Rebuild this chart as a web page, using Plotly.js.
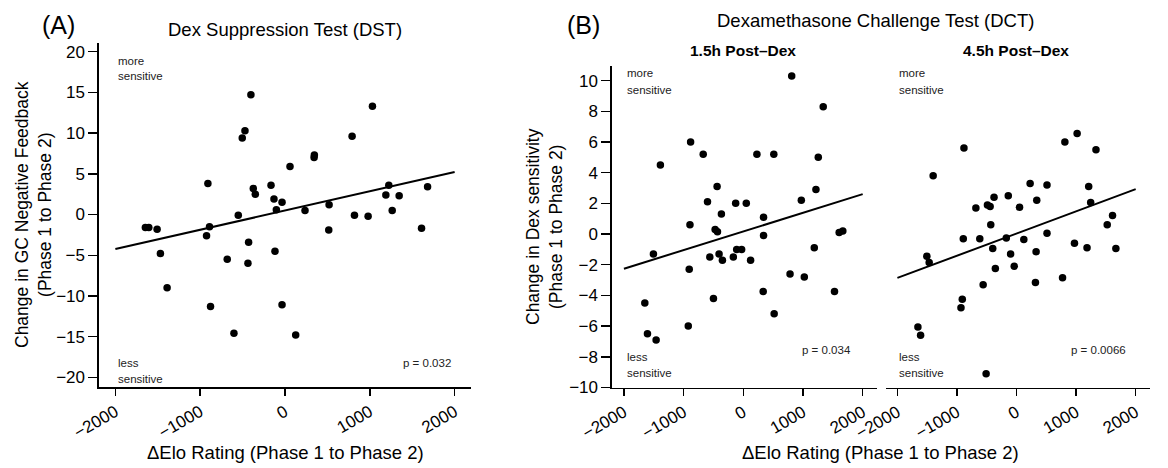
<!DOCTYPE html>
<html>
<head>
<meta charset="utf-8">
<script src="https://cdn.plot.ly/plotly-3.0.1.min.js"></script>
<style>html,body{margin:0;padding:0;background:#fff;}#chart{width:1168px;height:468px;}</style>
</head>
<body>
<div id="chart"></div>
<script>
// Panel A: Dex Suppression Test (DST)
const eloA = [-1646,-1606,-1508,-1469,-1390,-909,-890,-925,-878,-681,-602,-551,-504,-472,-402,-374,-350,-429,-437,-165,-130,-102,-35,-118,-35,59,126,236,343,346,520,516,791,819,980,1031,1189,1224,1264,1346,1610,1681];
const gcA  = [-1.6,-1.6,-1.8,-4.8,-9.0,3.8,-1.5,-2.6,-11.3,-5.5,-14.6,-0.1,9.4,10.3,14.7,3.2,2.5,-3.4,-6.0,3.6,1.9,0.6,1.5,-4.5,-11.1,5.9,-14.8,0.5,7.0,7.3,1.2,-1.9,9.6,-0.1,-0.2,13.3,2.4,3.6,0.5,2.3,-1.7,3.4];
// Panel B: 1.5h Post-Dex
const eloB15 = [811,1339,-883,-672,228,511,1256,-1389,-439,1217,-600,-128,50,972,-367,339,-894,-472,-433,339,1606,1667,-1506,-561,-406,-350,-111,-28,-167,122,1189,-906,783,1022,-500,333,1528,517,-1650,-922,-1606,-1461];
const dexB15 = [10.3,8.3,6.0,5.2,5.2,5.2,5.0,4.5,3.1,2.9,2.1,2.0,2.0,2.2,1.3,1.1,0.6,0.3,0.15,-0.1,0.1,0.2,-1.3,-1.5,-1.3,-1.7,-1.0,-1.0,-1.5,-1.7,-0.9,-2.3,-2.6,-2.8,-4.2,-3.75,-3.75,-5.2,-4.5,-6.0,-6.5,-6.9];
// Panel B: 4.5h Post-Dex
const eloB45 = [1017,811,1333,-883,-1400,228,511,1211,-139,-378,339,-489,-444,-683,50,1244,1611,1522,-433,-894,-617,-172,122,511,-400,-100,328,972,1183,1667,-1506,-1467,-356,-39,-561,317,772,-911,-933,-1656,-1611,-511];
const dexB45 = [6.55,6.0,5.5,5.6,3.8,3.3,3.2,3.1,2.5,2.4,2.2,1.9,1.8,1.7,1.75,2.05,1.2,0.6,0.6,-0.3,-0.3,-0.25,-0.35,0.05,-0.95,-1.3,-1.15,-0.6,-0.9,-0.95,-1.45,-1.85,-2.25,-2.1,-3.3,-3.15,-2.85,-4.25,-4.8,-6.05,-6.6,-9.1];
// Fitted regression lines (endpoints)
const fitX = [-2000, 2000];
const fitA = [-4.24, 5.22];
const fitB15 = [-2.26, 2.60];
const fitB45 = [-2.86, 2.93];
// Tick labels
const xTicks = [-2000,-1000,0,1000,2000];
const yTicksA = [-20,-15,-10,-5,0,5,10,15,20];
const yTicksB = [-10,-8,-6,-4,-2,0,2,4,6,8,10];
const pValues = ['p = 0.032','p = 0.034','p = 0.0066'];

const W = 1168, H = 468;
const px = v => v / W;
const py = v => (H - v) / H;
const FONT = 'Liberation Sans, Arial, Helvetica, sans-serif';
const mk = {color:'#000', size:7.5};
const ln = {color:'#000', width:2};

const traces = [
  {x: eloA, y: gcA, type:'scatter', mode:'markers', marker: mk, xaxis:'x', yaxis:'y'},
  {x: fitX, y: fitA, type:'scatter', mode:'lines', line: ln, xaxis:'x', yaxis:'y'},
  {x: eloB15, y: dexB15, type:'scatter', mode:'markers', marker: mk, xaxis:'x2', yaxis:'y2'},
  {x: fitX, y: fitB15, type:'scatter', mode:'lines', line: ln, xaxis:'x2', yaxis:'y2'},
  {x: eloB45, y: dexB45, type:'scatter', mode:'markers', marker: mk, xaxis:'x3', yaxis:'y3'},
  {x: fitX, y: fitB45, type:'scatter', mode:'lines', line: ln, xaxis:'x3', yaxis:'y3'}
];

const tickFont = {family: FONT, size: 17, color:'#000'};
const fmt = v => v < 0 ? '\u2212' + Math.abs(v) : String(v);
function xax(dom, range, anchor) {
  return {domain: dom, range: range, anchor: anchor, showgrid:false, zeroline:false,
    showline:true, linecolor:'#000', linewidth:1.6, ticks:'outside', ticklen:7, tickwidth:1.4,
    tickcolor:'#000', tickvals: xTicks, ticktext: xTicks.map(fmt),
    tickangle:-30, tickfont: tickFont, fixedrange:true};
}
function yax(dom, range, anchor, ticks, show) {
  return {domain: dom, range: range, anchor: anchor, showgrid:false, zeroline:false,
    showline: show, linecolor:'#000', linewidth:1.6, ticks: show ? 'outside' : '', ticklen:9, tickwidth:1.4,
    tickcolor:'#000', tickvals: ticks, ticktext: ticks.map(fmt),
    showticklabels: show, tickfont: tickFont, fixedrange:true};
}

const small = {family: FONT, size: 11.5, color:'#222'};
function note(text, x, y, anchor) {
  return {text: text, xref:'paper', yref:'paper', x: px(x), y: py(y), xanchor: anchor || 'left', yanchor:'middle', showarrow:false, font: small};
}
function label(text, x, y, size, angle) {
  const a = {text: text, xref:'paper', yref:'paper', x: px(x), y: py(y), xanchor:'center', yanchor:'middle', showarrow:false, font:{family:FONT, size:size, color:'#000'}};
  if (angle) a.textangle = angle;
  return a;
}
const annotations = [
  label('(A)', 58, 25, 25),
  label('(B)', 583, 25, 25),
  label('Dex Suppression Test (DST)', 285, 30, 18.5),
  label('Dexamethasone Challenge Test (DCT)', 875, 21, 18.5),
  label('<b>1.5h Post\u2013Dex</b>', 743, 51, 15.5),
  label('<b>4.5h Post\u2013Dex</b>', 1016, 51, 15.5),
  label('Change in GC Negative Feedback<br>(Phase 1 to Phase 2)', 33, 215, 17.5, -90),
  label('Change in Dex sensitivity<br>(Phase 1 to Phase 2)', 544, 227, 17.5, -90),
  label('\u0394Elo Rating (Phase 1 to Phase 2)', 285, 452, 18.5),
  label('\u0394Elo Rating (Phase 1 to Phase 2)', 880, 452, 18.5),
  note('more', 116, 61), note('sensitive', 116, 76.5), note('less', 116, 363), note('sensitive', 116, 379),
  note('more', 625, 73), note('sensitive', 625, 90), note('less', 625, 357), note('sensitive', 625, 373),
  note('more', 897, 73), note('sensitive', 897, 90), note('less', 897, 357), note('sensitive', 897, 373),
  note(pValues[0], 453, 363, 'right'), note(pValues[1], 853, 350, 'right'), note(pValues[2], 1128, 350, 'right')
];

const layout = {
  width: W, height: H, margin:{l:0, r:0, t:0, b:0},
  paper_bgcolor:'#fff', plot_bgcolor:'#fff', showlegend:false,
  font:{family: FONT, color:'#000'},
  xaxis: xax([px(99), px(471)], [-2193, 2193], 'y'),
  yaxis: yax([py(387), py(43)], [-21.19, 21.07], 'x', yTicksA, true),
  xaxis2: xax([px(612), px(877)], [-2200, 2240], 'y2'),
  yaxis2: yax([py(387.5), py(66)], [-10, 10.95], 'x2', yTicksB, true),
  xaxis3: xax([px(885.5), px(1150)], [-2200, 2240], 'y3'),
  yaxis3: yax([py(387.5), py(66)], [-10, 10.95], 'x3', yTicksB, false),
  annotations: annotations
};

Plotly.newPlot('chart', traces, layout, {displayModeBar:false, staticPlot:true});
</script>
</body>
</html>
